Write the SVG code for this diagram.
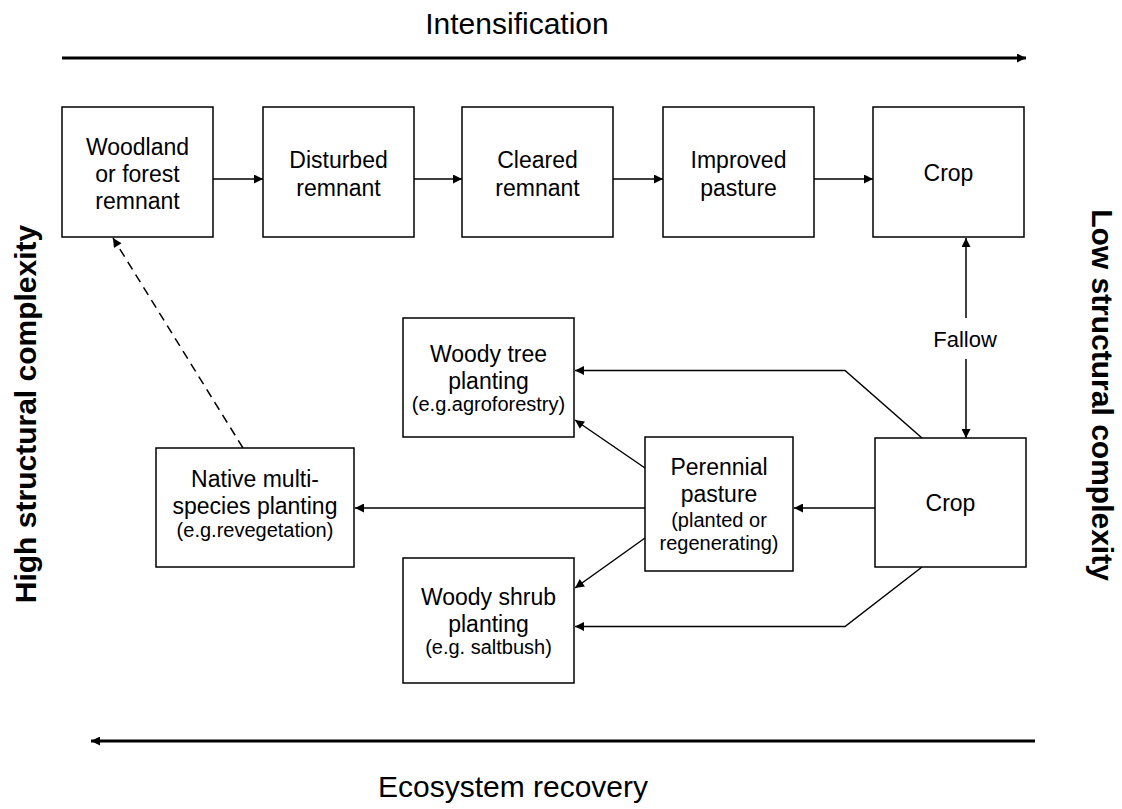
<svg xmlns="http://www.w3.org/2000/svg" width="1122" height="809" viewBox="0 0 1122 809">
<style>
.box{fill:#fff;stroke:#000;stroke-width:1.5}
.t{font-family:"Liberation Sans",Arial,sans-serif;font-size:23px;fill:#000;text-anchor:middle}
.s{font-family:"Liberation Sans",Arial,sans-serif;font-size:20px;fill:#000;text-anchor:middle}
.big{font-family:"Liberation Sans",Arial,sans-serif;font-size:30px;fill:#000;text-anchor:middle}
.side{font-family:"Liberation Sans",Arial,sans-serif;font-size:30px;font-weight:bold;fill:#000;text-anchor:middle}
.c{fill:none;stroke:#000;stroke-width:1.5;marker-end:url(#ah)}
.d{fill:none;stroke:#000;stroke-width:1.5;stroke-dasharray:9,6;marker-end:url(#ah)}
.axis{fill:none;stroke:#000;stroke-width:3;marker-end:url(#ahb)}
</style>
<defs>
<marker id="ah" viewBox="0 0 10 10" refX="10" refY="5" markerWidth="11" markerHeight="9" markerUnits="userSpaceOnUse" orient="auto"><path d="M0,0 L10,5 L0,10 z" fill="#000"/></marker>
<marker id="ahb" viewBox="0 0 10 10" refX="10" refY="5" markerWidth="10" markerHeight="9" markerUnits="userSpaceOnUse" orient="auto"><path d="M0,0 L10,5 L0,10 z" fill="#000"/></marker>
</defs>
<rect width="1122" height="809" fill="#fff"/>

<g id="axes">
<text class="big" x="517" y="34">Intensification</text>
<line class="axis" x1="62" y1="58" x2="1026" y2="58"/>
<line class="axis" x1="1035" y1="741" x2="91" y2="741"/>
<text class="big" x="513" y="797">Ecosystem recovery</text>
<text class="side" transform="translate(36,414) rotate(-90)">High structural complexity</text>
<text class="side" transform="translate(1092,395) rotate(90)">Low structural complexity</text>
</g>

<g id="connectors">
<line class="c" x1="213" y1="179" x2="263" y2="179"/>
<line class="c" x1="414" y1="179" x2="462" y2="179"/>
<line class="c" x1="613" y1="179" x2="663" y2="179"/>
<line class="c" x1="814" y1="179" x2="873" y2="179"/>
<line class="c" x1="966" y1="318" x2="966" y2="238"/>
<line class="c" x1="966" y1="359" x2="966" y2="438"/>
<polyline class="c" points="922,438 845,370.5 575,370.5"/>
<polyline class="c" points="922,567 845,626.5 575,626.5"/>
<line class="c" x1="875" y1="508" x2="794" y2="508"/>
<line class="c" x1="645" y1="508" x2="355" y2="508"/>
<line class="c" x1="645" y1="468" x2="575" y2="420"/>
<line class="c" x1="645" y1="538" x2="575" y2="588"/>
<line class="d" x1="243" y1="448" x2="113" y2="238"/>
</g>

<g id="woodland">
<rect class="box" x="62" y="107" width="151" height="130"/>
<text class="t" x="137.5" y="154.5">Woodland</text>
<text class="t" x="137.5" y="181.5">or forest</text>
<text class="t" x="137.5" y="208.5">remnant</text>
</g>
<g id="disturbed">
<rect class="box" x="263" y="107" width="151" height="130"/>
<text class="t" x="338.5" y="168">Disturbed</text>
<text class="t" x="338.5" y="196">remnant</text>
</g>
<g id="cleared">
<rect class="box" x="462" y="107" width="151" height="130"/>
<text class="t" x="537.5" y="168">Cleared</text>
<text class="t" x="537.5" y="196">remnant</text>
</g>
<g id="improved">
<rect class="box" x="663" y="107" width="151" height="130"/>
<text class="t" x="738.5" y="168">Improved</text>
<text class="t" x="738.5" y="196">pasture</text>
</g>
<g id="crop-top">
<rect class="box" x="873" y="107" width="151" height="130"/>
<text class="t" x="948.5" y="181">Crop</text>
</g>
<g id="fallow">
<text class="t" x="965" y="347" style="font-size:22px">Fallow</text>
</g>
<g id="woody-tree">
<rect class="box" x="403" y="318" width="171" height="119"/>
<text class="t" x="488.5" y="362">Woody tree</text>
<text class="t" x="488.5" y="389">planting</text>
<text class="s" x="488.5" y="411">(e.g.agroforestry)</text>
</g>
<g id="perennial">
<rect class="box" x="645" y="437" width="148" height="134"/>
<text class="t" x="719" y="475">Perennial</text>
<text class="t" x="719" y="502">pasture</text>
<text class="s" x="719" y="527">(planted or</text>
<text class="s" x="719" y="550">regenerating)</text>
</g>
<g id="crop-bottom">
<rect class="box" x="875" y="438" width="151" height="129"/>
<text class="t" x="950.5" y="511">Crop</text>
</g>
<g id="native">
<rect class="box" x="156" y="448" width="198" height="119"/>
<text class="t" x="255" y="487">Native multi-</text>
<text class="t" x="255" y="514">species planting</text>
<text class="s" x="255" y="537">(e.g.revegetation)</text>
</g>
<g id="woody-shrub">
<rect class="box" x="403" y="558" width="171" height="125"/>
<text class="t" x="488.5" y="605">Woody shrub</text>
<text class="t" x="488.5" y="632">planting</text>
<text class="s" x="488.5" y="654">(e.g. saltbush)</text>
</g>
</svg>
